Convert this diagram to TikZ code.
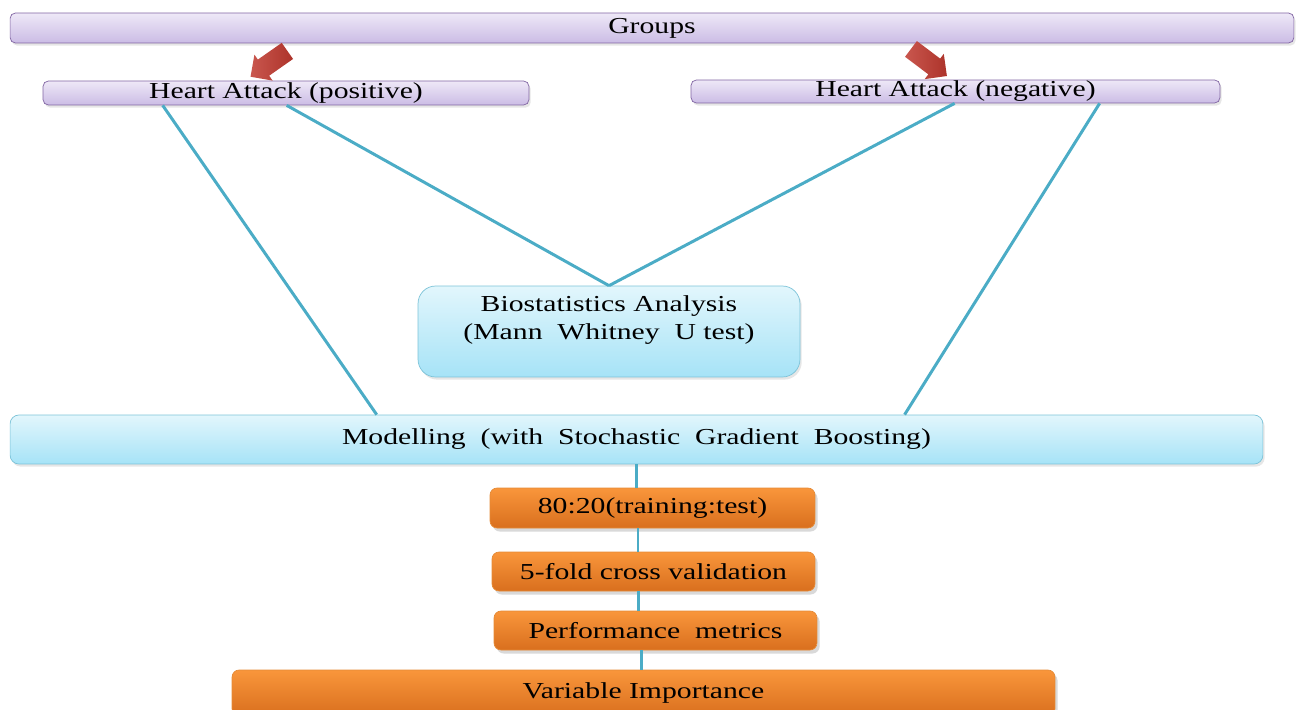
\documentclass[tikz,border=0pt]{standalone}
\usepackage{fontspec}
\setmainfont[FakeStretch=1.3]{Liberation Serif}
\usetikzlibrary{positioning,shapes.arrows,shadows}

\definecolor{grpline}{HTML}{8064A2}
\definecolor{grptop}{HTML}{EEE8F7}
\definecolor{grpbot}{HTML}{CBBCE5}
\definecolor{blueline}{HTML}{7CC3D8}
\definecolor{bluetop}{HTML}{E2F6FC}
\definecolor{bluebot}{HTML}{A6E3F7}
\definecolor{orgtop}{HTML}{F9963B}
\definecolor{orgbot}{HTML}{D96F1E}
\definecolor{linkcol}{HTML}{4BACC6}
\definecolor{arrred}{HTML}{C0392F}

\begin{document}
\begin{tikzpicture}[x=0.02cm,y=-0.02cm,every text node part/.style={align=center}]
		\tikzstyle{every node}=[font=\fontsize{13}{16}\selectfont];
		\tikzstyle{grpbox}=[draw=grpline,thin,rounded corners=3pt,top color=grptop,bottom color=grpbot,inner sep=0pt,drop shadow={opacity=0.2,shadow xshift=1pt,shadow yshift=-1.5pt}]
		\tikzstyle{bluebox}=[draw=blueline,thin,top color=bluetop,bottom color=bluebot,inner sep=0pt,drop shadow={opacity=0.2,shadow xshift=1pt,shadow yshift=-1.5pt}]
		\tikzstyle{orgbox}=[draw=orgtop!80!black!40!orgtop,top color=orgtop,bottom color=orgbot,rounded corners=4pt,inner sep=0pt,drop shadow={opacity=0.3,shadow xshift=1.5pt,shadow yshift=-2pt}]
		\tikzstyle{redarrow}=[single arrow,left color=arrred!85!white,right color=arrred!90!black,inner sep=0.19cm,single arrow head extend=0.12cm,minimum height=0.9cm]
		\tikzstyle{link}=[linkcol,line width=1.7pt]

		\clip (0,0) rectangle (1296,710);

		% top groups
		\node[grpbox,minimum width=25.68cm,minimum height=0.6cm] (groups) at (652,28) {Groups};
		\node[grpbox,minimum width=9.72cm,minimum height=0.48cm] (pos) at (286,93) {\raisebox{-1.5pt}{Heart Attack (positive)}};
		\node[grpbox,minimum width=10.58cm,minimum height=0.46cm] (neg) at (955.5,91.5) {\raisebox{-1.5pt}{Heart Attack (negative)}};
		\node[redarrow,rotate=215] (arrpos) at (273,61) {};
		\node[redarrow,rotate=-37] (arrneg) at (925,59.5) {};

		% analysis and model
		\node[bluebox,rounded corners=10pt,minimum width=7.64cm,minimum height=1.82cm] (bio) at (609,331.5) {Biostatistics Analysis\\(Mann\ \ Whitney\ \ U test)\\ \mbox{}};
		\node[bluebox,rounded corners=5pt,minimum width=25.06cm,minimum height=0.98cm] (mod) at (636.5,439.5) {Modelling\ \ (with\ \ Stochastic\ \ Gradient\ \ Boosting)};

		\draw[link] ([xshift=2.4cm]pos.south west) -- ([xshift=7.34cm]mod.north west);
		\draw[link] ([xshift=4.88cm]pos.south west) -- (bio.north);
		\draw[link] ([xshift=5.28cm]neg.south west) -- (bio.north);
		\draw[link] ([xshift=8.18cm]neg.south west) -- ([xshift=17.9cm]mod.north west);

		% steps
		\node[orgbox,minimum width=6.5cm,minimum height=0.8cm] (split) at (652.5,508) {80:20(training:test)};
		\node[orgbox,minimum width=6.46cm,minimum height=0.78cm] (cv) at (653.5,571.5) {5-fold cross validation};
		\node[orgbox,minimum width=6.46cm,minimum height=0.78cm] (perf) at (655.5,630.5) {Performance\ \ metrics};
		\node[orgbox,minimum width=16.46cm,minimum height=0.92cm] (varimp) at (643.5,693) {Variable Importance};

		\draw[link] (mod.south) -- (mod.south |- split.north);
		\draw[link] ([xshift=0.03cm]split.south -| mod.south) -- ([xshift=0.03cm]cv.north -| mod.south);
		\draw[link] ([xshift=0.04cm]cv.south -| mod.south) -- ([xshift=0.04cm]perf.north -| mod.south);
		\draw[link] ([xshift=0.1cm]perf.south -| mod.south) -- ([xshift=0.1cm]varimp.north -| mod.south);

	\end{tikzpicture}
\end{document}
